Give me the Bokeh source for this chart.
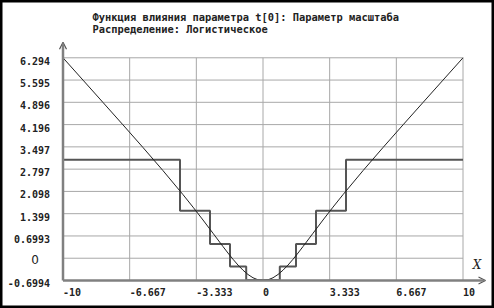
from bokeh.plotting import figure
from bokeh.models import Label, Arrow, OpenHead, ColumnDataSource
from bokeh.core.properties import value
from bokeh.embed import file_html
from bokeh.resources import INLINE

# ---- data ----
title_line1 = "Функция влияния параметра t[0]: Параметр масштаба"
title_line2 = "Распределение: Логистическое"
x_axis_name = "X"

x_ticks = [-10, -6.667, -3.333, 0, 3.333, 6.667, 10]
x_tick_labels = ["-10", "-6.667", "-3.333", "0", "3.333", "6.667", "10"]
y_ticks = [-0.6994, 0, 0.6993, 1.399, 2.098, 2.797, 3.497, 4.196, 4.896, 5.595, 6.294]
y_tick_labels = ["-0.6994", "0", "0.6993", "1.399", "2.098", "2.797",
                 "3.497", "4.196", "4.896", "5.595", "6.294"]

curve_x = [-10, -9, -8, -7, -6, -5, -4, -3.5, -3, -2.5, -2, -1.75, -1.5, -1.25,
           -1, -0.75, -0.5, -0.25, 0, 0.25, 0.5, 0.75, 1, 1.25, 1.5, 1.75, 2,
           2.5, 3, 3.5, 4, 5, 6, 7, 8, 9, 10]
curve_y = [6.294, 5.593, 4.891, 4.187, 3.476, 2.750, 1.997, 1.605, 1.200, 0.784,
           0.366, 0.162, -0.033, -0.215, -0.376, -0.511, -0.614, -0.678, -0.699,
           -0.678, -0.614, -0.511, -0.376, -0.215, -0.033, 0.162, 0.366, 0.784,
           1.200, 1.605, 1.997, 2.750, 3.476, 4.187, 4.891, 5.593, 6.294]

step_edges = [-10, -4.15, -2.65, -1.65, -0.84, 0.84, 1.65, 2.65, 4.15, 10]
step_levels = [3.09, 1.49, 0.45, -0.26, -0.68, -0.26, 0.45, 1.49, 3.09]

# ---- figure ----
X_MIN, X_MAX = x_ticks[0], x_ticks[-1]
Y_MIN, Y_MAX = y_ticks[0], y_ticks[-1]

p = figure(width=494, height=308, output_backend="svg", toolbar_location=None,
           x_range=(-13.125, 11.575), y_range=(-1.5787, 8.093),
           x_axis_location=None, y_axis_location=None, min_border=0)
p.xgrid.visible = False
p.ygrid.visible = False
p.background_fill_color = "white"
p.border_fill_color = "white"
p.outline_line_color = "black"
p.outline_line_width = 4

grid_color = "#a8a8a8"
axis_color = "#808080"

# grid lines
p.segment(x0=[X_MIN] * (len(y_ticks) - 1), y0=y_ticks[1:],
          x1=[X_MAX] * (len(y_ticks) - 1), y1=y_ticks[1:],
          line_color=grid_color, line_width=1)
p.segment(x0=x_ticks[1:], y0=[Y_MIN] * (len(x_ticks) - 1),
          x1=x_ticks[1:], y1=[Y_MAX] * (len(x_ticks) - 1),
          line_color=grid_color, line_width=1)

# axes with arrows
p.add_layout(Arrow(x_start=X_MIN, y_start=Y_MIN, x_end=X_MIN, y_end=Y_MAX + 0.49,
                   line_color=axis_color, line_width=2.5,
                   end=OpenHead(size=7, line_color="#555555", line_width=1.2)))
p.add_layout(Arrow(x_start=X_MIN, y_start=Y_MIN, x_end=X_MAX + 1.125, y_end=Y_MIN,
                   line_color=axis_color, line_width=2.5,
                   end=OpenHead(size=7, line_color="#555555", line_width=1.2)))

# step function
sx, sy = [], []
for i, lev in enumerate(step_levels):
    sx += [step_edges[i], step_edges[i + 1]]
    sy += [lev, lev]
p.line(sx, sy, line_color="#555555", line_width=2)

# smooth curve
p.line(curve_x, curve_y, line_color="#222222", line_width=1)

# tick labels
mono = value("DejaVu Sans Mono")
ylab_idx = [i for i, t in enumerate(y_tick_labels) if t != "0"]
ysrc = ColumnDataSource(dict(x=[X_MIN] * len(ylab_idx),
                             y=[y_ticks[i] for i in ylab_idx],
                             t=[y_tick_labels[i] for i in ylab_idx]))
p.text(x="x", y="y", text="t", source=ysrc, text_font=mono, text_font_style="bold",
       text_font_size="10px", text_align="right", text_baseline="middle",
       x_offset=-13, y_offset=3, text_color="#222222")
zero_idx = y_tick_labels.index("0")
p.text(x=[X_MIN], y=[y_ticks[zero_idx]], text=[y_tick_labels[zero_idx]],
       text_font=value("DejaVu Sans"), text_font_size="12px",
       text_align="center", text_baseline="middle", x_offset=-28, y_offset=1,
       text_color="#222222")
xsrc = ColumnDataSource(dict(x=x_ticks, y=[Y_MIN] * len(x_ticks), t=x_tick_labels))
p.text(x="x", y="y", text="t", source=xsrc, text_font=mono, text_font_style="bold",
       text_font_size="10px", text_align="left", text_baseline="middle",
       x_offset=0, y_offset=12, text_color="#222222")

# axis name
p.text(x=[X_MAX], y=[Y_MIN], text=[x_axis_name], text_font=value("DejaVu Serif"),
       text_font_style="italic", text_font_size="12px", text_align="center",
       text_baseline="middle", x_offset=14, y_offset=-15, text_color="#222222")

# titles
p.add_layout(Label(x=92, y=292, x_units="screen", y_units="screen", text=title_line1,
                   text_font="DejaVu Sans Mono", text_font_style="bold",
                   text_font_size="10.4px", text_baseline="middle", text_color="#222222"))
p.add_layout(Label(x=92, y=280, x_units="screen", y_units="screen", text=title_line2,
                   text_font="DejaVu Sans Mono", text_font_style="bold",
                   text_font_size="10.4px", text_baseline="middle", text_color="#222222"))

open("out.html", "w").write(file_html(p, INLINE))
